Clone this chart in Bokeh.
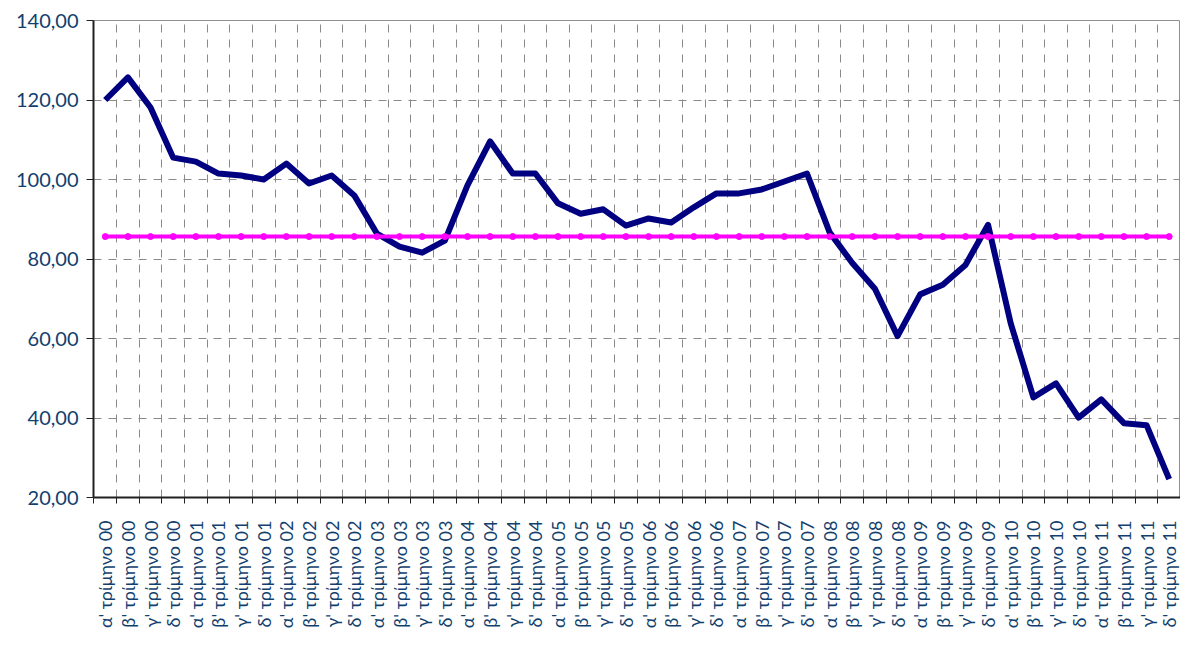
import math
from bokeh.plotting import figure
from bokeh.models import Range1d, FixedTicker, ColumnDataSource
from bokeh.embed import file_html
from bokeh.resources import INLINE

categories = [
    "α' τρίμηνο 00", "β' τρίμηνο 00", "γ' τρίμηνο 00", "δ' τρίμηνο 00",
    "α' τρίμηνο 01", "β' τρίμηνο 01", "γ' τρίμηνο 01", "δ' τρίμηνο 01",
    "α' τρίμηνο 02", "β' τρίμηνο 02", "γ' τρίμηνο 02", "δ' τρίμηνο 02",
    "α' τρίμηνο 03", "β' τρίμηνο 03", "γ' τρίμηνο 03", "δ' τρίμηνο 03",
    "α' τρίμηνο 04", "β' τρίμηνο 04", "γ' τρίμηνο 04", "δ' τρίμηνο 04",
    "α' τρίμηνο 05", "β' τρίμηνο 05", "γ' τρίμηνο 05", "δ' τρίμηνο 05",
    "α' τρίμηνο 06", "β' τρίμηνο 06", "γ' τρίμηνο 06", "δ' τρίμηνο 06",
    "α' τρίμηνο 07", "β' τρίμηνο 07", "γ' τρίμηνο 07", "δ' τρίμηνο 07",
    "α' τρίμηνο 08", "β' τρίμηνο 08", "γ' τρίμηνο 08", "δ' τρίμηνο 08",
    "α' τρίμηνο 09", "β' τρίμηνο 09", "γ' τρίμηνο 09", "δ' τρίμηνο 09",
    "α' τρίμηνο 10", "β' τρίμηνο 10", "γ' τρίμηνο 10", "δ' τρίμηνο 10",
    "α' τρίμηνο 11", "β' τρίμηνο 11", "γ' τρίμηνο 11", "δ' τρίμηνο 11",
]

index_values = [
    120.0, 125.7, 118.1, 105.5,
    104.5, 101.5, 101.0, 100.0,
    104.0, 99.0, 101.0, 96.0,
    86.4, 83.1, 81.6, 84.6,
    98.5, 109.6, 101.5, 101.5,
    94.0, 91.4, 92.5, 88.4,
    90.2, 89.2, 93.0, 96.5,
    96.5, 97.5, 99.5, 101.5,
    86.7, 79.0, 72.5, 60.6,
    71.1, 73.5, 78.5, 88.6,
    63.8, 45.2, 48.7, 40.1,
    44.7, 38.7, 38.2, 24.6,
]

average_values = [
    85.64, 85.64, 85.64, 85.64, 85.64, 85.64, 85.64, 85.64,
    85.64, 85.64, 85.64, 85.64, 85.64, 85.64, 85.64, 85.64,
    85.64, 85.64, 85.64, 85.64, 85.64, 85.64, 85.64, 85.64,
    85.64, 85.64, 85.64, 85.64, 85.64, 85.64, 85.64, 85.64,
    85.64, 85.64, 85.64, 85.64, 85.64, 85.64, 85.64, 85.64,
    85.64, 85.64, 85.64, 85.64, 85.64, 85.64, 85.64, 85.64,
]

y_ticks = [20, 40, 60, 80, 100, 120, 140]
y_tick_labels = ["20,00", "40,00", "60,00", "80,00", "100,00", "120,00", "140,00"]

FONT = "Lato"
LABEL_COLOR = "#123f6e"

n = len(categories)
xs = list(range(n))
src = ColumnDataSource(dict(x=xs, v=index_values, a=average_values))

p = figure(
    width=1180, height=638,
    x_range=Range1d(-0.52, n - 0.5),
    y_range=Range1d(20, 140),
    output_backend="svg", toolbar_location=None,
    min_border_left=93, min_border_top=20, min_border_right=0, min_border_bottom=141,
)
p.background_fill_color = "white"
p.border_fill_color = "white"
p.outline_line_color = "#909090"
p.outline_line_width = 1

# axes
p.xaxis.ticker = FixedTicker(ticks=xs, minor_ticks=[i - 0.5 for i in range(n + 1)])
p.xaxis.major_label_overrides = {i: c for i, c in enumerate(categories)}
p.xaxis.major_label_orientation = math.pi / 2
p.xaxis.major_tick_out = 0
p.xaxis.major_tick_in = 0
p.xaxis.minor_tick_out = 6
p.xaxis.minor_tick_in = 0
p.xaxis.minor_tick_line_color = "#202020"
p.xaxis.minor_tick_line_width = 1
p.xaxis.axis_line_color = "#202020"
p.xaxis.axis_line_width = 2
p.xaxis.major_label_standoff = 17
p.xaxis.major_label_text_font = FONT
p.xaxis.major_label_text_font_size = "18px"
p.xaxis.major_label_text_color = LABEL_COLOR

p.yaxis.ticker = FixedTicker(ticks=y_ticks, minor_ticks=[])
p.yaxis.major_label_overrides = {t: l for t, l in zip(y_ticks, y_tick_labels)}
p.yaxis.major_tick_out = 7
p.yaxis.major_tick_in = 0
p.yaxis.major_tick_line_color = "#202020"
p.yaxis.axis_line_color = "#202020"
p.yaxis.axis_line_width = 2
p.yaxis.major_label_standoff = 8
p.yaxis.major_label_text_font = FONT
p.yaxis.major_label_text_font_size = "20px"
p.yaxis.major_label_text_color = LABEL_COLOR

# grids
p.xgrid.ticker = FixedTicker(ticks=[i + 0.5 for i in range(n)])
p.xgrid.grid_line_color = "#8a8a8a"
p.xgrid.grid_line_dash = "8 7"
p.xgrid.grid_line_width = 1
p.ygrid.ticker = FixedTicker(ticks=y_ticks[1:-1])
p.ygrid.grid_line_color = "#8a8a8a"
p.ygrid.grid_line_dash = "8 7"
p.ygrid.grid_line_width = 1

# series
p.line("x", "v", source=src, line_color="#000080", line_width=6, line_join="round")
p.line("x", "a", source=src, line_color="#ff00ff", line_width=4)
p.scatter("x", "a", source=src, size=6, fill_color="#ff00ff", line_color="#ff00ff")

open("out.html", "w").write(file_html(p, INLINE))
